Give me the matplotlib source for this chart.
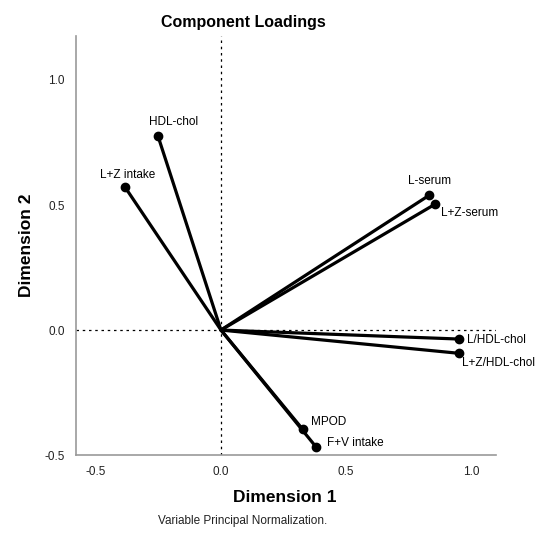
import matplotlib
matplotlib.use('Agg')
import matplotlib.pyplot as plt

plt.rcParams['font.family'] = ['Liberation Sans', 'DejaVu Sans']

variables = ['HDL-chol', 'L+Z intake', 'L-serum', 'L+Z-serum',
             'L/HDL-chol', 'L+Z/HDL-chol', 'MPOD', 'F+V intake']
dim1 = [-0.252, -0.384, 0.833, 0.856, 0.952, 0.952, 0.327, 0.380]
dim2 = [0.776, 0.572, 0.539, 0.503, -0.036, -0.093, -0.397, -0.467]

# label offsets in points and alignment per variable
offsets = {'HDL-chol': (11, 10, 'center'),
           'L+Z intake': (2, 9, 'center'),
           'L-serum': (0, 10, 'center'),
           'L+Z-serum': (4, -6, 'left'),
           'L/HDL-chol': (6, -1, 'left'),
           'L+Z/HDL-chol': (2, -7, 'left'),
           'MPOD': (6, 5, 'left'),
           'F+V intake': (8, 3, 'left')}

fig = plt.figure(figsize=(5.35, 5.45), dpi=100)
ax = fig.add_axes([0.142, 0.165, 0.785, 0.769])

ax.axvline(0, color='black', lw=0.9, ls=(0, (2, 3)), zorder=1)
ax.axhline(0, color='black', lw=0.9, ls=(0, (2, 3)), zorder=1)

for name, x, y in zip(variables, dim1, dim2):
    ax.plot([0, x], [0, y], color='black', lw=2.3, solid_capstyle='round', zorder=2)
    ax.plot(x, y, 'o', color='black', ms=6, zorder=3)
    dx, dy, ha = offsets[name]
    ax.annotate(name, (x, y), xytext=(dx, dy), textcoords='offset points',
                ha=ha, va='center', fontsize=8.5, annotation_clip=False)

ax.set_xlim(-0.58, 1.1)
ax.set_ylim(-0.5, 1.176)
ax.set_xticks([-0.5, 0.0, 0.5, 1.0])
ax.set_yticks([-0.5, 0.0, 0.5, 1.0])
ax.set_xticklabels(['-0.5', '0.0', '0.5', '1.0'])
ax.set_yticklabels(['-0.5', '0.0', '0.5', '1.0'])
ax.tick_params(length=0, labelsize=8.5, colors='#222222', pad=8)

for side in ['top', 'right']:
    ax.spines[side].set_visible(False)
for side in ['left', 'bottom']:
    ax.spines[side].set_color('#999999')
    ax.spines[side].set_linewidth(1.2)

fig.text(243/535, 1 - 22/545, 'Component Loadings', ha='center', va='center',
         fontsize=11.5, fontweight='bold')
fig.text(285/535, 1 - 498/545, 'Dimension 1', ha='center', va='center',
         fontsize=12.5, fontweight='bold')
fig.text(27/535, 1 - 245/545, 'Dimension 2', ha='center', va='center',
         fontsize=12.5, fontweight='bold', rotation=90)
fig.text(243/535, 1 - 521/545, 'Variable Principal Normalization.', ha='center',
         va='center', fontsize=8.5, color='#222222')

fig.savefig('out.png', dpi=100)
